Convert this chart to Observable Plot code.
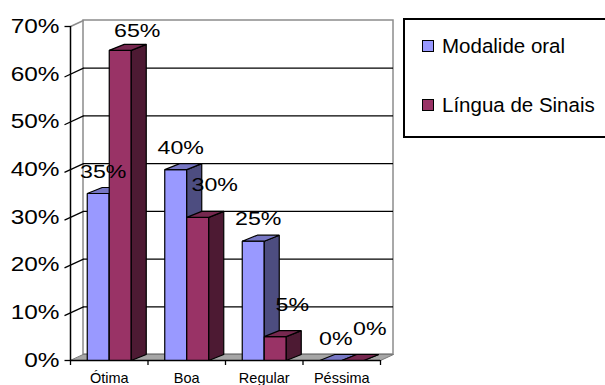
<!DOCTYPE html>
<html>
<head>
<meta charset="utf-8">
<script src="https://cdn.jsdelivr.net/npm/d3@7"></script>
<script src="https://cdn.jsdelivr.net/npm/@observablehq/plot@0.6"></script>
<style>
  body { margin: 0; background: #fff; }
  #chart { position: relative; width: 605px; height: 385px; overflow: hidden; font-family: "Liberation Sans", Arial, sans-serif; }
  #chart svg { position: absolute; left: 0; top: 0; }
  .legend { position: absolute; left: 403px; top: 18px; width: 240px; height: 120px; border: 2px solid #000; box-sizing: border-box; background: #fff; }
  .legend .item { position: absolute; left: 17px; display: flex; align-items: center; font-size: 20.5px; color: #000; white-space: nowrap; }
  .legend .sw { width: 10px; height: 10px; border: 1.5px solid #000; margin-right: 8px; }
</style>
</head>
<body>
<div id="chart"></div>
<script>
// Avaliação da comunicação por modalidade
const categories = ["Ótima", "Boa", "Regular", "Péssima"];
const seriesNames = ["Modalide oral", "Língua de Sinais"];
const modalideOral = [35, 40, 25, 0];
const linguaDeSinais = [65, 30, 5, 0];
const yTicks = [0, 10, 20, 30, 40, 50, 60, 70];

// Plot frame (pixels) and conversion helpers from pixels to data units
const W = 605, H = 385;
const xRange = [70, 380], yRange = [360, 26];
const xDomain = [0, categories.length], yDomain = [0, 70];
const ux = (xDomain[1] - xDomain[0]) / (xRange[1] - xRange[0]);
const uy = (yDomain[1] - yDomain[0]) / (yRange[0] - yRange[1]);

const barW = 22 * ux;                    // column width
const barDX = 15 * ux, barDY = 6 * uy;   // column depth (oblique projection)
const wallDX = 13 * ux, wallDY = 6 * uy; // floor / back wall depth

const series = [
  {name: seriesNames[0], values: modalideOral,   front: "#9999ff", side: "#4d4d80", top: "#7777c4"},
  {name: seriesNames[1], values: linguaDeSinais, front: "#993366", side: "#4d1a33", top: "#76284f"}
];

// Polygon vertices for each visible face of each 3D column, back-to-front order
const faces = [];
categories.forEach((cat, i) => {
  series.forEach((s, k) => {
    const v = s.values[i];
    const a = i + 0.5 + (k - 1) * barW, b = a + barW;
    const push = (face, fill, pts) => pts.forEach(([x, y]) => faces.push({id: `${cat}-${k}-${face}`, fill, x, y}));
    push("front", s.front, [[a, 0], [b, 0], [b, v], [a, v]]);
    push("side", s.side, [[b, 0], [b + barDX, barDY], [b + barDX, v + barDY], [b, v]]);
    push("top", s.top, [[a, v], [b, v], [b + barDX, v + barDY], [a + barDX, v + barDY]]);
  });
});

const n = categories.length;
const floor = [[0, 0], [n, 0], [n + wallDX, wallDY], [wallDX, wallDY]].map(([x, y]) => ({x, y}));
const inner = yTicks.filter(v => v > 0 && v < 70);
const edges = [yTicks[0], yTicks[yTicks.length - 1]];

const labelMarks = series.map((s, k) => {
  const rise = k === 0 ? 22 : 32;
  return Plot.text(categories.map((c, i) => i), {
    x: i => i + 0.5 + (k - 1) * barW + barW / 2,
    y: i => Math.min(s.values[i] + rise * uy, 69),
    text: i => s.values[i] + "%",
    dx: k === 0 ? 5 : 17,
    fontSize: 19,
    fill: "#000"
  });
});

const svg = Plot.plot({
  width: W,
  height: H,
  margin: 0,
  style: {fontFamily: "'Liberation Sans', Arial, sans-serif", background: "transparent", overflow: "visible"},
  x: {domain: xDomain, range: xRange, axis: null},
  y: {domain: yDomain, range: yRange, axis: null},
  color: {type: "identity"},
  marks: [
    // back wall
    Plot.rect([0], {x1: () => wallDX, x2: () => n + wallDX, y1: () => wallDY, y2: () => 70 + wallDY,
      fill: "#fff", stroke: "#8c8c8c", strokeWidth: 1.5}),
    Plot.ruleY(inner, {y: v => v + wallDY, x1: () => wallDX, x2: () => n + wallDX, stroke: "#000", strokeWidth: 1.3}),
    // left wall gridlines and tick marks
    Plot.link(inner, {x1: () => -6 * ux, y1: v => v - 2.8 * uy, x2: () => wallDX, y2: v => v + wallDY, stroke: "#000", strokeWidth: 1.3}),
    Plot.link(edges, {x1: () => -6 * ux, y1: v => v, x2: () => 0, y2: v => v, stroke: "#000", strokeWidth: 1.3}),
    Plot.link([70], {x1: () => 0, y1: v => v, x2: () => wallDX, y2: v => v + wallDY, stroke: "#8c8c8c", strokeWidth: 1.5}),
    // floor
    Plot.line(floor, {x: "x", y: "y", curve: "linear-closed", fill: "#a6a6a6", stroke: "#7a7a7a", strokeWidth: 1}),
    // columns
    Plot.line(faces, {x: "x", y: "y", z: "id", fill: "fill", stroke: "#000", strokeWidth: 1.2,
      curve: "linear-closed", strokeLinejoin: "miter"}),
    // axes
    Plot.ruleX([0], {y1: () => 0, y2: () => 70, stroke: "#000", strokeWidth: 1.5}),
    Plot.ruleY([0], {x1: () => 0, x2: () => n, stroke: "#000", strokeWidth: 1.5}),
    Plot.ruleX(d3.range(n + 1), {y1: () => 0, y2: () => -5 * uy, stroke: "#000", strokeWidth: 1.3}),
    Plot.text(yTicks, {x: () => 0, y: v => v, text: v => v + "%", textAnchor: "end", dx: -11,
      fontSize: 20, fill: "#000"}),
    Plot.text(categories, {x: (d, i) => i + 0.5, y: () => 0, dy: 18, fontSize: 14.5, fill: "#000"}),
    ...labelMarks
  ]
});

const chart = document.getElementById("chart");
chart.appendChild(svg);

// Wide lettering for the percentage numbers
svg.querySelectorAll("text").forEach(t => {
  if (!t.textContent.endsWith("%")) return;
  const L = t.getComputedTextLength();
  t.setAttribute("textLength", (L * 1.22).toFixed(1));
  t.setAttribute("lengthAdjust", "spacingAndGlyphs");
});

// legend
const legend = document.createElement("div");
legend.className = "legend";
series.forEach((s, k) => {
  const item = document.createElement("div");
  item.className = "item";
  item.style.top = (k === 0 ? 14 : 73) + "px";
  const sw = document.createElement("span");
  sw.className = "sw";
  sw.style.background = s.front;
  const label = document.createElement("span");
  label.textContent = s.name;
  item.append(sw, label);
  legend.appendChild(item);
});
chart.appendChild(legend);
</script>
</body>
</html>
